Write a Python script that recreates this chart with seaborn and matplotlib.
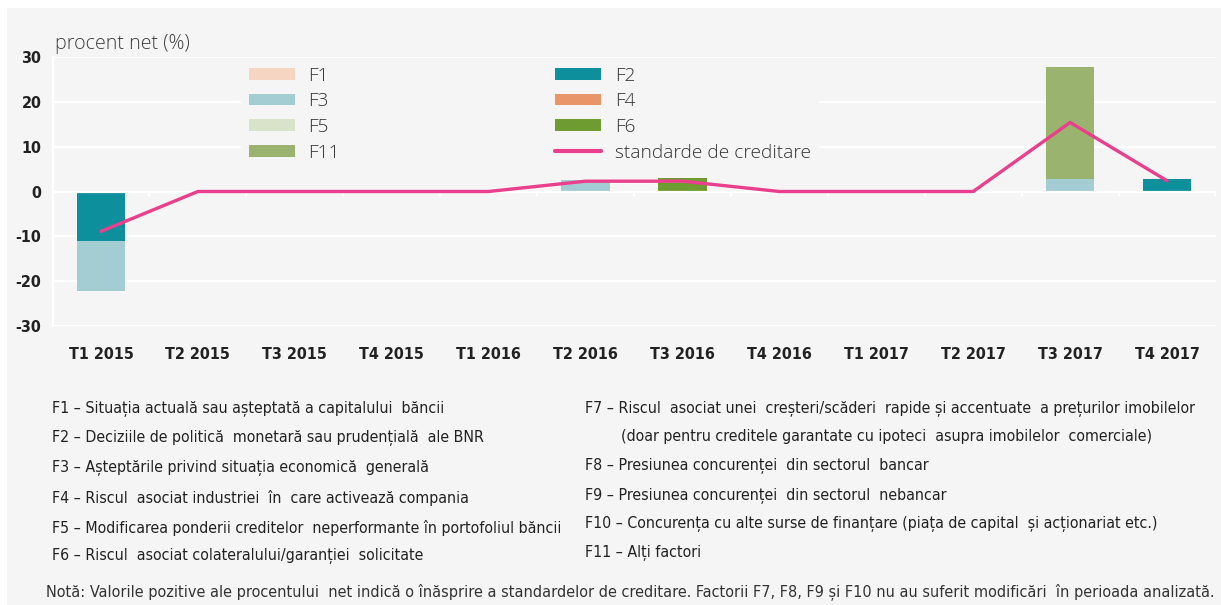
import numpy as np
import pandas as pd
import matplotlib
matplotlib.use("Agg")
import matplotlib.pyplot as plt
from matplotlib import font_manager
from matplotlib.patches import Patch, Rectangle
from matplotlib.lines import Line2D
import seaborn as sns

categories = ["T1 2015", "T2 2015", "T3 2015", "T4 2015", "T1 2016", "T2 2016",
              "T3 2016", "T4 2016", "T1 2017", "T2 2017", "T3 2017", "T4 2017"]
F1 = [0, 0, 0, 0, 0, 0, 0, 0, 0, 0, 0, 0]
F2 = [-11.1, 0, 0, 0, 0, 0, 0, 0, 0, 0, 0, 2.8]
F3 = [-11.1, 0, 0, 0, 0, 2.5, 0, 0, 0, 0, 2.8, 0]
F4 = [0, 0, 0, 0, 0, 0, 0, 0, 0, 0, 0, 0]
F5 = [0, 0, 0, 0, 0, 0, 0, 0, 0, 0, 0, 0]
F6 = [0, 0, 0, 0, 0, 0, 2.9, 0, 0, 0, 0, 0]
F11 = [0, 0, 0, 0, 0, 0, 0, 0, 0, 0, 24.9, 0]
standarde = [-8.9, 0, 0, 0, 0, 2.3, 2.3, 0, 0, 0, 15.4, 2.4]

series_names = ["F1", "F2", "F3", "F4", "F5", "F6", "F11"]
series_vals = [F1, F2, F3, F4, F5, F6, F11]
colors = {"F1": "#F6D5C2", "F2": "#0E8F9C", "F3": "#A4CCD3", "F4": "#E8956A",
          "F5": "#D8E3CA", "F6": "#6F9C30", "F11": "#9AB36F"}
line_color = "#EA3F8C"
bg = "#F5F5F5"

desc_left = [
    "F1 – Situația actuală sau așteptată a capitalului  băncii",
    "F2 – Deciziile de politică  monetară sau prudențială  ale BNR",
    "F3 – Așteptările privind situația economică  generală",
    "F4 – Riscul  asociat industriei  în  care activează compania",
    "F5 – Modificarea ponderii creditelor  neperformante în portofoliul băncii",
    "F6 – Riscul  asociat colateralului/garanției  solicitate",
]
desc_right = [
    "F7 – Riscul  asociat unei  creșteri/scăderi  rapide și accentuate  a prețurilor imobilelor",
    "        (doar pentru creditele garantate cu ipoteci  asupra imobilelor  comerciale)",
    "F8 – Presiunea concurenței  din sectorul  bancar",
    "F9 – Presiunea concurenței  din sectorul  nebancar",
    "F10 – Concurența cu alte surse de finanțare (piața de capital  și acționariat etc.)",
    "F11 – Alți factori",
]
note = ("Notă: Valorile pozitive ale procentului  net indică o înăsprire a standardelor de creditare. "
        "Factorii F7, F8, F9 și F10 nu au suferit modificări  în perioada analizată.")

sns.set_theme(style="white")

fl = font_manager.fontManager.ttflist
names = {f.name for f in fl}
def has(name, stretches):
    return any(f.name == name and f.stretch in stretches for f in fl)

cond = dict(family=["DejaVu Sans"], stretch="normal")
if "Liberation Sans Narrow" in names:
    cond = dict(family=["Liberation Sans Narrow", "DejaVu Sans"], stretch="normal")
elif has("Noto Sans", ("extra-condensed", 62.5, 63)):
    cond = dict(family=["Noto Sans", "DejaVu Sans"], stretch="extra-condensed")
elif has("Noto Sans", ("condensed", 75)):
    cond = dict(family=["Noto Sans", "DejaVu Sans"], stretch="condensed")
elif has("DejaVu Sans", ("condensed", 75)):
    cond = dict(family=["DejaVu Sans"], stretch="condensed")

plt.rcParams["font.family"] = cond["family"]
plt.rcParams["font.stretch"] = cond["stretch"]
plt.rcParams["axes.unicode_minus"] = False

W, H = 1221, 605
fig = plt.figure(figsize=(W / 100, H / 100), dpi=100, facecolor="white")
fig.patches.append(Rectangle((7 / W, 0), 1 - 7 / W, 1 - 8 / H, transform=fig.transFigure,
                             facecolor=bg, edgecolor="none", zorder=-10))
renderer = fig.canvas.get_renderer()

def fit_size(text, target_px, base, **kw):
    t = fig.text(0, 0, text, fontsize=base, **kw)
    w = t.get_window_extent(renderer).width
    t.remove()
    return min(base * 1.15, base * target_px / w)

ax = fig.add_axes([52.5 / W, 1 - 326 / H, 1163 / W, 269 / H])
ax.set_facecolor(bg)

n = len(categories)
vals = np.array(series_vals, dtype=float)
pos = np.where(vals > 0, vals, 0)
neg = np.where(vals < 0, vals, 0)
cum_pos = np.cumsum(pos, axis=0)
cum_neg = np.cumsum(neg, axis=0)
for i in range(len(series_names) - 1, -1, -1):
    name = series_names[i]
    top = np.where(pos[i] > 0, cum_pos[i], np.where(neg[i] < 0, cum_neg[i], 0))
    df = pd.DataFrame({"cat": categories, "v": top})
    sns.barplot(data=df, x="cat", y="v", color=colors[name], width=0.5,
                saturation=1, ax=ax, zorder=3, linewidth=0, order=categories)

ldf = pd.DataFrame({"x": np.arange(n), "y": standarde})
sns.lineplot(data=ldf, x="x", y="y", color=line_color, linewidth=2.4, ax=ax, zorder=5)

ax.set_xlim(-0.5, n - 0.5)
ax.set_ylim(-30, 30)
ax.set_yticks([-30, -20, -10, 0, 10, 20, 30])
ax.set_xlabel("")
ax.set_ylabel("")
for y in [-30, -20, -10, 10, 20, 30]:
    ax.axhline(y, color="white", linewidth=1.6, zorder=1)
ax.axhline(0, color="white", linewidth=1.6, zorder=4)
for s in ["top", "right", "bottom"]:
    ax.spines[s].set_visible(False)
ax.spines["left"].set_color("white")
ax.spines["left"].set_linewidth(1.6)

tick_size = fit_size("T1 2015", 56, 13.5, fontweight="bold")
tick_size = max(min(tick_size, 14), 11.5)
ax.tick_params(axis="y", length=5, color="white", width=1.6, labelsize=tick_size, pad=3)
ax.tick_params(axis="x", length=0, labelsize=tick_size, pad=15)
for lab in ax.get_yticklabels() + ax.get_xticklabels():
    lab.set_fontweight("bold")
    lab.set_color("#222222")
for b in np.arange(0.5, n, 1.0):
    ax.plot([b, b], [0, -1.0], color="white", linewidth=1.6, zorder=4, clip_on=False)

ax.text(0.002, 1.01, "procent net (%)", transform=ax.transAxes, fontsize=14.2,
        color="#404040", family=["Open Sans", "DejaVu Sans"], fontweight="light",
        fontstretch="normal", va="bottom", ha="left")

handles = [Patch(facecolor=colors[s], edgecolor="none") for s in series_names]
labels = list(series_names)
handles.append(Line2D([0], [0], color=line_color, linewidth=3))
labels.append("standarde de creditare")
order = [0, 2, 4, 6, 1, 3, 5, 7]
leg = ax.legend([handles[i] for i in order], [labels[i] for i in order], ncol=2,
                loc="upper left", bbox_to_anchor=(0.154, 1.028), frameon=True,
                fancybox=False, facecolor=bg, edgecolor=bg, framealpha=1,
                prop={"family": ["Open Sans", "DejaVu Sans"], "size": 13.8,
                      "weight": "light", "stretch": "normal"},
                handlelength=2.4, handleheight=0.55, handletextpad=0.7,
                columnspacing=11.25, labelspacing=0.4, borderpad=0.4)
leg.set_zorder(2)
for t in leg.get_texts():
    t.set_color("#333333")

desc_size = fit_size(desc_left[4], 486 * 1.06, 13.5)
desc_size_r = fit_size(desc_right[0], 583 * 1.05, 13.5)
ds = min(desc_size, desc_size_r)
ys_left = [409, 438, 468, 498, 528, 556]
ys_right = [409, 437, 466, 496, 524, 553]
for t, y in zip(desc_left, ys_left):
    fig.text(52 / W, 1 - y / H, t, fontsize=ds, color="#222222", va="center", ha="left")
for t, y in zip(desc_right, ys_right):
    fig.text(585 / W, 1 - y / H, t, fontsize=ds, color="#222222", va="center", ha="left")
note_size = fit_size(note, 1164, 12.5, fontweight="light")
fig.text(1214 / W, 1 - 592 / H, note, fontsize=note_size, color="#333333", va="center",
         ha="right", fontweight="light")

fig.savefig("out.png", dpi=100, facecolor="white")
